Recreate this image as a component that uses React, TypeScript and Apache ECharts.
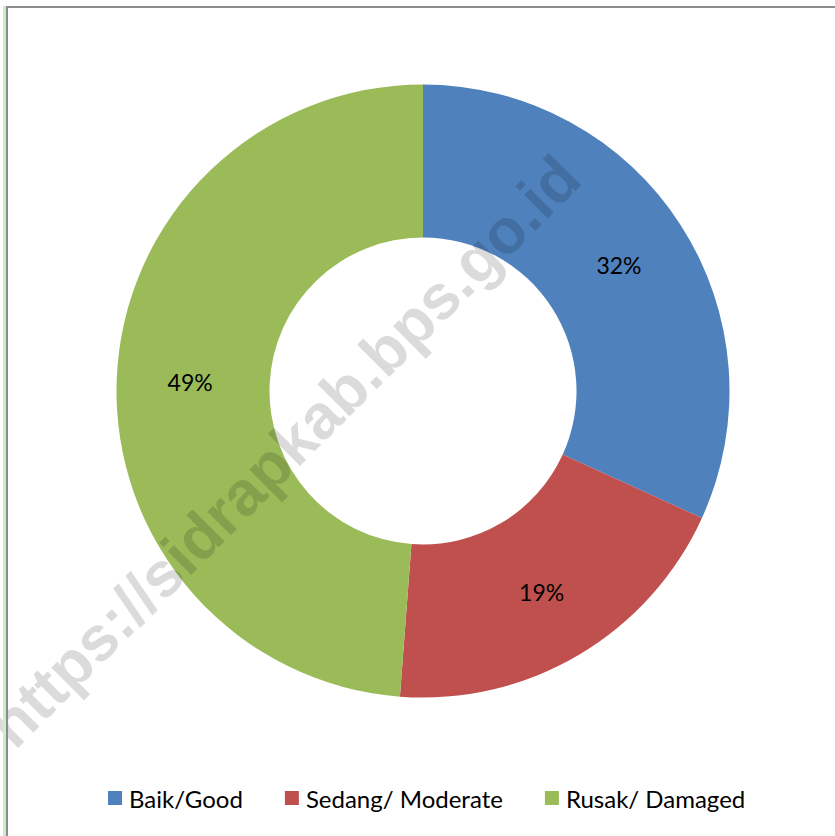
import React, { useEffect, useRef } from "react";
import * as echarts from "echarts";

const categories = ["Baik/Good", "Sedang/ Moderate", "Rusak/ Damaged"];
const shares = [31.8, 19.4, 48.8];
const colors = ["#4F81BD", "#C0504D", "#9BBB59"];
const watermark = "https://sidrapkab.bps.go.id";

export default function App() {
  const ref = useRef<HTMLDivElement>(null);
  useEffect(() => {
    if (!ref.current) return;
    const chart = echarts.init(ref.current, undefined, { renderer: "svg" });
    chart.setOption({
      animation: false,
      backgroundColor: "#ffffff",
      legend: {
        left: 108,
        top: 786,
        padding: 0,
        itemWidth: 14,
        itemHeight: 14,
        itemGap: 42,
        icon: "rect",
        data: categories,
        textStyle: {
          fontFamily: "Lato",
          fontSize: 24,
          lineHeight: 24,
          color: "#000",
          padding: [0, 0, 0, 2],
        },
      },
      series: [
        {
          type: "pie",
          center: [423, 391],
          radius: [153.5, 306.5],
          startAngle: 90,
          clockwise: true,
          silent: true,
          label: {
            show: true,
            position: "inside",
            fontFamily: "Lato",
            fontSize: 23,
            color: "#000",
            formatter: (p: any) => Math.round(p.value) + "%",
          },
          labelLine: { show: false },
          data: categories.map((name, i) => ({
            name,
            value: shares[i],
            itemStyle: { color: colors[i] },
          })),
        },
      ],
      graphic: [
        { type: "rect", shape: { x: 3, y: 6, width: 3, height: 830 }, style: { fill: "#c8f0c8" }, z: 100 },
        { type: "rect", shape: { x: 6, y: 6, width: 2, height: 830 }, style: { fill: "#8c8c8c" }, z: 100 },
        { type: "rect", shape: { x: 6, y: 6, width: 829, height: 2 }, style: { fill: "#8c8c8c" }, z: 100 },
        {
          type: "text",
          x: 284,
          y: 451,
          rotation: Math.PI / 4,
          z: 90,
          silent: true,
          style: {
            text: watermark,
            fontFamily: "Liberation Sans",
            fontWeight: "bold",
            fontSize: 63,
            fill: "rgba(0,0,0,0.14)",
            align: "center",
            verticalAlign: "middle",
            textAlign: "center",
            textVerticalAlign: "middle",
          },
        },
      ],
    });
    return () => chart.dispose();
  }, []);
  return (
    <div
      ref={ref}
      style={{ position: "fixed", left: 0, top: 0, width: 835, height: 836 }}
    />
  );
}
